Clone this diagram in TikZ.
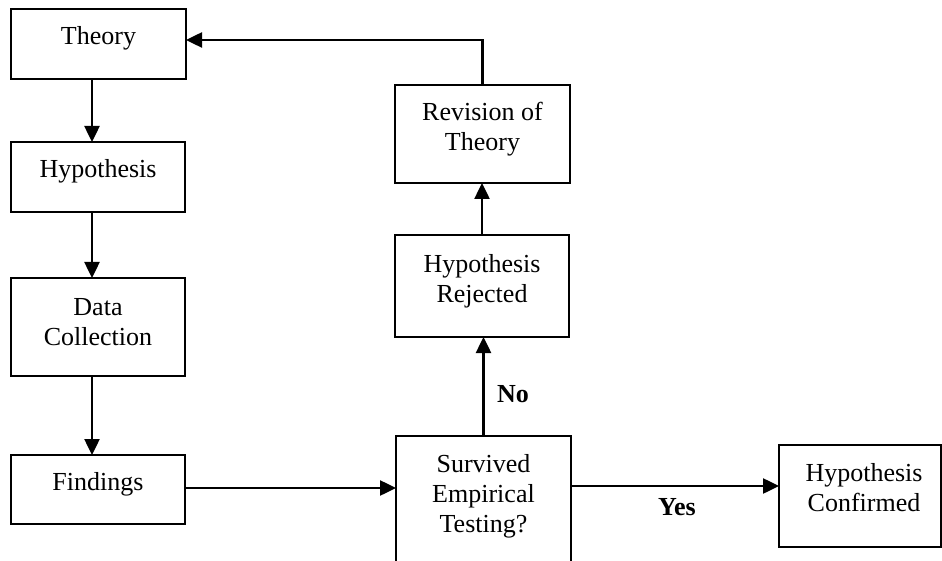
\documentclass[tikz,border=0pt]{standalone}
\usepackage{fontspec}
\setmainfont{Liberation Serif}
\usetikzlibrary{arrows.meta}
\begin{document}
\begin{tikzpicture}[x=1pt,y=-1pt,
  box/.style={draw=black,line width=2pt,inner sep=0pt,outer sep=0pt},
  txt/.style={anchor=base,align=center,inner sep=0pt,font=\fontsize{26}{30}\selectfont},
  lbl/.style={anchor=base,inner sep=0pt,font=\fontsize{26}{30}\selectfont\bfseries},
  arr/.style={line width=2.5pt,-{Triangle[length=16pt,width=15pt]}}]
\useasboundingbox (0,0) rectangle (942,561);

% boxes of the left column
\node[box,minimum width=175,minimum height=70] (theory) at (98.5,44) {};
\node[box,minimum width=174,minimum height=70] (hyp) at (98,177) {};
\node[box,minimum width=174,minimum height=98] (data) at (98,327) {};
\node[box,minimum width=174,minimum height=69] (find) at (98,489.5) {};

% boxes of the right column
\node[box,minimum width=175,minimum height=98] (rev) at (482.5,134) {};
\node[box,minimum width=174,minimum height=102] (rej) at (482,286) {};
\node[box,minimum width=175,minimum height=140] (surv) at (483.5,506) {};
\node[box,minimum width=162,minimum height=102] (conf) at (860,496) {};

% texts (base = baseline of the last line)
\node[txt] (theory-t) at (98.5,45) {Theory};
\node[txt] (hyp-t) at (98,178) {Hypothesis};
\node[txt] (data-t) at (98,345) {Data\\Collection};
\node[txt] (find-t) at (98,490) {Findings};
\node[txt] (rev-t) at (482.5,151) {Revision of\\Theory};
\node[txt] (rej-t) at (482,302) {Hypothesis\\Rejected};
\node[txt] (surv-t) at (483.5,532) {Survived\\Empirical\\Testing?};
\node[txt] (conf-t) at (864,511) {Hypothesis\\Confirmed};

% connectors
\draw[arr] ([xshift=-6.5pt]theory.south) -- ([xshift=-6.5pt]theory.south |- hyp.north);
\draw[arr] ([xshift=-6pt]hyp.south) -- ([xshift=-6pt]hyp.south |- data.north);
\draw[arr] ([xshift=-6pt]data.south) -- ([xshift=-6pt]data.south |- find.north);
\draw[arr] ([yshift=1.5pt]find.east) -- ([yshift=1.5pt]find.east -| surv.west);
\draw[arr] (surv.north) -- (surv.north |- rej.south);
\node[lbl] (no) at (513,402) {No};
\draw[arr] (rej.north) -- (rej.north |- rev.south);
\draw[arr] (rev.north) |- ([yshift=4pt]theory.east);
\coordinate (yesrow) at (0,486);
\draw[arr] (surv.east |- yesrow) -- (conf.west |- yesrow);
\node[lbl] (yes) at (677,515) {Yes};
\end{tikzpicture}
\end{document}
